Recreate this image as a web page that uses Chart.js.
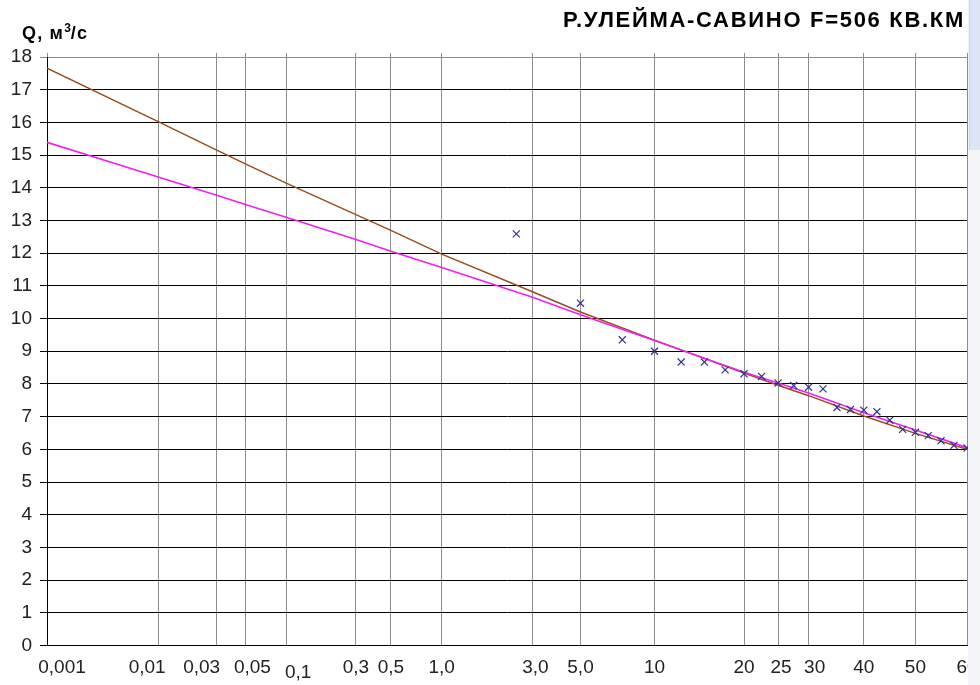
<!DOCTYPE html>
<html>
<head>
<meta charset="utf-8">
<script src="https://cdn.jsdelivr.net/npm/chart.js@4/dist/chart.umd.min.js"></script>
<style>
  body { margin: 0; background: #fff; }
  #wrap { position: relative; width: 980px; height: 685px; overflow: hidden; }
  #chart { position: absolute; left: 0; top: 0; }
  .title {
    position: absolute; right: 15px; top: 9px;
    font: bold 22px "Liberation Sans", Arial, sans-serif; line-height: 22px;
    letter-spacing: 1.7px; color: #000; white-space: nowrap;
  }
  .qlabel {
    position: absolute; left: 22px; top: 24px;
    font: bold 18px "Liberation Sans", Arial, sans-serif; line-height: 18px;
    letter-spacing: 1.2px; color: #000; white-space: nowrap;
  }
  .qlabel .sup { font-size: 12px; position: relative; top: -7px; letter-spacing: 0; }
  .scroll { position: absolute; left: 968px; top: 0; width: 12px; height: 685px; background: #f3f5f9; }
  .scroll .thumb { position: absolute; left: 1px; top: 0; width: 10px; height: 150px; background: #dde6f5; border-left: 1px solid #c6d4ec; }
</style>
</head>
<body>
<div id="wrap">
  <canvas id="chart" width="980" height="685"></canvas>
  <div class="title">Р.УЛЕЙМА-САВИНО F=506 КВ.КМ</div>
  <div class="qlabel">Q, м<span class="sup">3</span>/с</div>
  <div class="scroll"><div class="thumb"></div></div>
</div>
<script>
// exceedance probability, %, on the x axis
const xTickValues = [0.001, 0.01, 0.03, 0.05, 0.1, 0.3, 0.5, 1, 3, 5, 10, 20, 25, 30, 40, 50, 60];
const xTickLabels = ['0,001', '0,01', '0,03', '0,05', '0,1', '0,3', '0,5', '1,0', '3,0', '5,0', '10', '20', '25', '30', '40', '50', '60'];

// observed discharges
const obsProb = [2.5, 5, 7.5, 10, 12.5, 15, 17.5, 20, 22.5, 25, 27.5, 30, 32.5, 35, 37.5, 40, 42.5, 45, 47.5, 50, 52.5, 55, 57.5, 60];
const obsQ = [12.59, 10.47, 9.35, 9.0, 8.67, 8.67, 8.43, 8.31, 8.23, 8.03, 7.95, 7.9, 7.85, 7.28, 7.22, 7.2, 7.15, 6.89, 6.61, 6.52, 6.42, 6.26, 6.12, 6.04];

// fitted curves
const curveProb = [0.001, 0.01, 0.03, 0.05, 0.1, 0.3, 0.5, 1, 3, 5, 10, 20, 25, 30, 40, 50, 60];
const brownQ = [17.66, 16.02, 15.15, 14.73, 14.14, 13.18, 12.70, 11.97, 10.82, 10.2, 9.34, 8.33, 7.96, 7.64, 7.02, 6.49, 6.0];
const magentaQ = [15.39, 14.33, 13.77, 13.49, 13.1, 12.42, 12.06, 11.56, 10.65, 10.12, 9.33, 8.36, 8.03, 7.72, 7.12, 6.59, 6.05];

// hand placed label shifts of the original [dx, dy]
const labelShift = { '0,001': [15, 0], '0,01': [-11, 0], '0,03': [-15, 0], '0,05': [7, 0], '0,1': [12, 5], '3,0': [3, 0], '25': [3, 0], '30': [6, 0] };

// inverse normal cdf (Acklam)
function probit(p) {
    const a = [-39.69683028665376, 220.9460984245205, -275.9285104469687, 138.3577518672690, -30.66479806614716, 2.506628277459239];
    const b = [-54.47609879822406, 161.5858368580409, -155.6989798598866, 66.80131188771972, -13.28068155288572];
    const c = [-0.007784894002430293, -0.3223964580411365, -2.400758277161838, -2.549732539343734, 4.374664141464968, 2.938163982698783];
    const d = [0.007784695709041462, 0.3224671290700398, 2.445134137142996, 3.754408661907416];
    const pl = 0.02425;
    if (p < pl) {
        const q = Math.sqrt(-2 * Math.log(p));
        return (((((c[0]*q+c[1])*q+c[2])*q+c[3])*q+c[4])*q+c[5]) / ((((d[0]*q+d[1])*q+d[2])*q+d[3])*q+1);
    }
    if (p > 1 - pl) {
        const q = Math.sqrt(-2 * Math.log(1 - p));
        return -(((((c[0]*q+c[1])*q+c[2])*q+c[3])*q+c[4])*q+c[5]) / ((((d[0]*q+d[1])*q+d[2])*q+d[3])*q+1);
    }
    const q = p - 0.5, r = q * q;
    return (((((a[0]*r+a[1])*r+a[2])*r+a[3])*r+a[4])*r+a[5])*q / (((((b[0]*r+b[1])*r+b[2])*r+b[3])*r+b[4])*r+1);
}

function normCdf(z) {
    const t = 1 / (1 + 0.3275911 * Math.abs(z) / Math.SQRT2);
    const y = 1 - (((((1.061405429*t - 1.453152027)*t) + 1.421413741)*t - 0.284496736)*t + 0.254829592)*t * Math.exp(-z*z/2);
    return z >= 0 ? (1 + y) / 2 : (1 - y) / 2;
}

// probability paper axis
class ProbabilityScale extends Chart.Scale {
    static id = 'probability';
    static defaults = {};

    parse(raw) {
        return +raw;
    }
    determineDataLimits() {
        this.min = isFinite(this._userMin) ? this._userMin : xTickValues[0];
        this.max = isFinite(this._userMax) ? this._userMax : xTickValues[xTickValues.length - 1];
    }
    buildTicks() {
        return xTickValues.map(value => ({ value }));
    }
    configure() {
        super.configure();
        this._zMin = probit(this.min / 100);
        this._zMax = probit(this.max / 100);
    }
    getLabelForValue(value) {
        return String(value);
    }
    getPixelForValue(value) {
        return this.getPixelForDecimal((probit(value / 100) - this._zMin) / (this._zMax - this._zMin));
    }
    getValueForPixel(pixel) {
        return 100 * normCdf(this._zMin + this.getDecimalForPixel(pixel) * (this._zMax - this._zMin));
    }
    _computeLabelItems(chartArea) {
        const items = super._computeLabelItems(chartArea);
        items.forEach(item => {
            const shift = labelShift[item.label];
            if (shift && item.options && item.options.translation) {
                item.options.translation[0] += shift[0];
                item.options.translation[1] += shift[1];
            }
        });
        return items;
    }
}
Chart.register(ProbabilityScale);

const tickFont = { family: '"Liberation Sans", Arial, sans-serif', size: 19 };
const GRAY = '#8c8c8c';

new Chart(document.getElementById('chart'), {
    type: 'scatter',
    data: {
        datasets: [
            {
                label: 'obs',
                data: obsProb.map((p, i) => ({ x: p, y: obsQ[i] })),
                pointStyle: 'crossRot',
                pointRadius: 5,
                borderColor: '#2e3192',
                borderWidth: 1.2,
                clip: false
            },
            {
                label: 'magenta',
                data: curveProb.map((p, i) => ({ x: p, y: magentaQ[i] })),
                showLine: true,
                pointRadius: 0,
                borderColor: '#f020f0',
                borderWidth: 1.6,
                tension: 0
            },
            {
                label: 'brown',
                data: curveProb.map((p, i) => ({ x: p, y: brownQ[i] })),
                showLine: true,
                pointRadius: 0,
                borderColor: '#9a4a1c',
                borderWidth: 1.4,
                tension: 0
            }
        ]
    },
    options: {
        responsive: false,
        animation: false,
        events: [],
        layout: { padding: { left: 0, right: 13, top: 53, bottom: 0 } },
        plugins: {
            legend: { display: false },
            tooltip: { enabled: false },
            title: { display: false }
        },
        scales: {
            x: {
                type: 'probability',
                position: 'bottom',
                min: 0.001,
                max: 60,
                grid: {
                    color: ctx => ctx.index === 0 ? '#000' : GRAY,
                    lineWidth: 1,
                    drawTicks: false
                },
                border: { color: '#000', width: 1 },
                ticks: {
                    autoSkip: false,
                    maxRotation: 0,
                    padding: 11,
                    font: tickFont,
                    color: '#222',
                    callback: (value, index) => xTickLabels[index]
                },
                afterFit: scale => {
                    scale.height = 39.5;
                    scale.paddingLeft = 0;
                    scale.paddingRight = 0;
                }
            },
            xTop: {
                type: 'probability',
                position: 'top',
                min: 0.001,
                max: 60,
                grid: { drawOnChartArea: false, tickLength: 4, color: GRAY },
                border: { color: GRAY, width: 1 },
                ticks: { display: false, autoSkip: false },
                afterFit: scale => {
                    scale.height = 4;
                    scale.paddingLeft = 0;
                    scale.paddingRight = 0;
                }
            },
            y: {
                type: 'linear',
                min: 0,
                max: 18,
                grid: {
                    color: ctx => ctx.tick && ctx.tick.value === 18 ? GRAY : '#000',
                    lineWidth: 1,
                    tickLength: 7
                },
                border: { color: '#000', width: 1 },
                ticks: {
                    stepSize: 1,
                    autoSkip: false,
                    padding: 8,
                    font: tickFont,
                    color: '#222'
                },
                afterFit: scale => {
                    scale.width = 47;
                    scale.paddingTop = 0;
                    scale.paddingBottom = 0;
                }
            }
        }
    }
});
</script>
</body>
</html>
